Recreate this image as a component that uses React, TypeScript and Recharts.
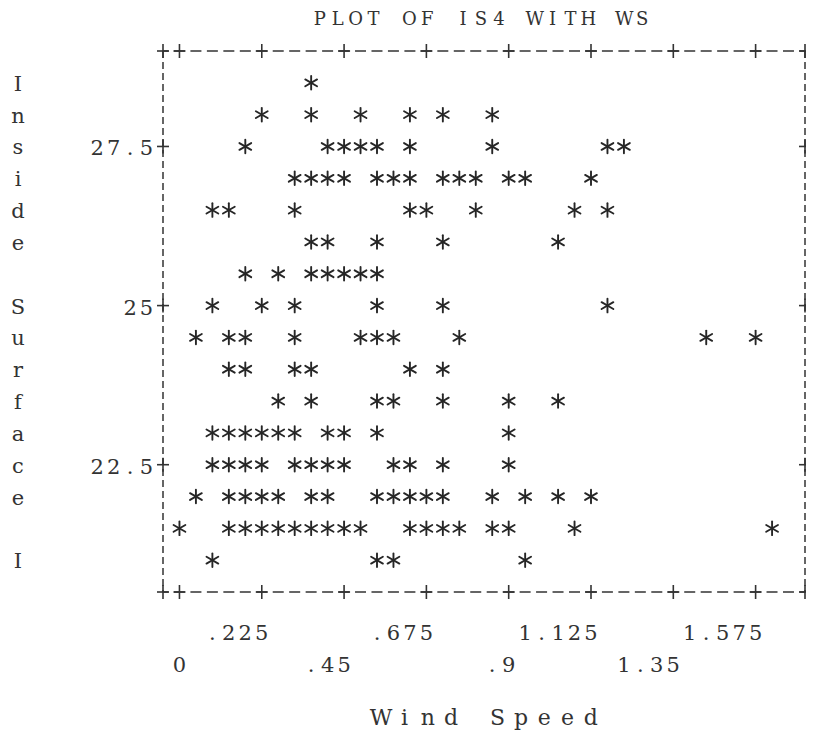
import React from 'react';
import { ScatterChart, Scatter, XAxis, YAxis } from 'recharts';

const title = 'PLOT OF IS4 WITH WS';
const xTitle = 'Wind Speed';
const yTitle = 'Inside Surface I';

const xTicks = [0, 0.225, 0.45, 0.675, 0.9, 1.125, 1.35, 1.575];
const xTickLabels = ['0', '.225', '.45', '.675', '.9', '1.125', '1.35', '1.575'];
const yTicks = [22.5, 25, 27.5];
const yTickLabels = ['22.5', '25', '27.5'];
const xMin = -0.045;
const xMax = 1.71;
const yMin = 20.5;
const yMax = 29;

// printed rows of the plot, top to bottom (IS4 value of each row)
const is4Rows = [28.5, 28, 27.5, 27, 26.5, 26, 25.5, 25, 24.5, 24, 23.5, 23, 22.5, 22, 21.5, 21];

// wind speed of every asterisk in each row
const ws285 = [0.36];
const ws280 = [0.225, 0.36, 0.495, 0.63, 0.72, 0.855];
const ws275 = [0.18, 0.405, 0.45, 0.495, 0.54, 0.63, 0.855, 1.17, 1.215];
const ws270 = [0.315, 0.36, 0.405, 0.45, 0.54, 0.585, 0.63, 0.72, 0.765, 0.81, 0.9, 0.945, 1.125];
const ws265 = [0.09, 0.135, 0.315, 0.63, 0.675, 0.81, 1.08, 1.17];
const ws260 = [0.36, 0.405, 0.54, 0.72, 1.035];
const ws255 = [0.18, 0.27, 0.36, 0.405, 0.45, 0.495, 0.54];
const ws250 = [0.09, 0.225, 0.315, 0.54, 0.72, 1.17];
const ws245 = [0.045, 0.135, 0.18, 0.315, 0.495, 0.54, 0.585, 0.765, 1.44, 1.575];
const ws240 = [0.135, 0.18, 0.315, 0.36, 0.63, 0.72];
const ws235 = [0.27, 0.36, 0.54, 0.585, 0.72, 0.9, 1.035];
const ws230 = [0.09, 0.135, 0.18, 0.225, 0.27, 0.315, 0.405, 0.45, 0.54, 0.9];
const ws225 = [0.09, 0.135, 0.18, 0.225, 0.315, 0.36, 0.405, 0.45, 0.585, 0.63, 0.72, 0.9];
const ws220 = [0.045, 0.135, 0.18, 0.225, 0.27, 0.36, 0.405, 0.54, 0.585, 0.63, 0.675, 0.72, 0.855, 0.945, 1.035, 1.125];
const ws215 = [0, 0.135, 0.18, 0.225, 0.27, 0.315, 0.36, 0.405, 0.45, 0.495, 0.63, 0.675, 0.72, 0.765, 0.855, 0.9, 1.08, 1.62];
const ws210 = [0.09, 0.54, 0.585, 0.945];

const wsRows = [ws285, ws280, ws275, ws270, ws265, ws260, ws255, ws250, ws245, ws240, ws235, ws230, ws225, ws220, ws215, ws210];

const points = is4Rows.flatMap((is4, i) => wsRows[i].map((ws) => ({ ws, is4 })));

const ink = '#333';
const font = '"DejaVu Serif", "Liberation Serif", serif';
const PITCH = 16.46; // typewriter column width

// x positions for each character, so text sits on the typewriter grid
const typedX = (text: string, firstX: number, pitch: number) =>
  text.split('').map((_, i) => (firstX + i * pitch).toFixed(1)).join(' ');

const Plus = ({ x, y }: { x: number; y: number }) => (
  <g stroke={ink} strokeWidth={1.6}>
    <line x1={x - 6} y1={y} x2={x + 6} y2={y} />
    <line x1={x} y1={y - 7} x2={x} y2={y + 7} />
  </g>
);

const PlusTick = (props: any) => <Plus x={props.x} y={props.y} />;

const BottomTick = (props: any) => {
  const { x, y, payload } = props;
  const idx = xTicks.indexOf(payload.value);
  if (idx < 0) return <Plus x={x} y={y} />;
  const label = xTickLabels[idx];
  const first = x - (label.length - 1) * PITCH;
  const ty = y + (idx % 2 === 1 ? 48 : 80);
  return (
    <g>
      <Plus x={x} y={y} />
      <text x={typedX(label, first, PITCH)} y={ty} textAnchor="middle" fontFamily={font} fontSize={21} fill={ink}>
        {label}
      </text>
    </g>
  );
};

const LeftTick = (props: any) => {
  const { x, y, payload } = props;
  const idx = yTicks.indexOf(payload.value);
  const label = idx < 0 ? '' : yTickLabels[idx];
  const first = x - label.length * PITCH;
  return (
    <g>
      <Plus x={x} y={y} />
      <text x={typedX(label, first, PITCH)} y={y + 9} textAnchor="middle" fontFamily={font} fontSize={21} fill={ink}>
        {label}
      </text>
    </g>
  );
};

const Asterisk = (props: any) => {
  const { cx, cy } = props;
  if (cx == null || cy == null) return null;
  const r = 6.8;
  const dx = r * Math.cos(Math.PI / 6);
  const dy = r * Math.sin(Math.PI / 6);
  return (
    <g stroke="#262626" strokeWidth={1.9} strokeLinecap="round">
      <line x1={cx} y1={cy - r} x2={cx} y2={cy + r} />
      <line x1={cx - dx} y1={cy - dy} x2={cx + dx} y2={cy + dy} />
      <line x1={cx - dx} y1={cy + dy} x2={cx + dx} y2={cy - dy} />
    </g>
  );
};

const Blank = () => <g />;

const TitleLabel = (props: any) => {
  const vb = props.viewBox || { x: 155, width: 642 };
  const pitch = 17.9;
  const cx = vb.x + vb.width / 2 - 3;
  const first = cx - ((title.length - 1) * pitch) / 2;
  return (
    <text x={typedX(title, first, pitch)} y={17} textAnchor="middle" fontFamily={font} fontSize={18} fill={ink}>
      {title}
    </text>
  );
};

const XTitleLabel = (props: any) => {
  const vb = props.viewBox || { x: 155, y: 584, width: 642, height: 146 };
  const pitch = 23.3;
  const cx = vb.x + vb.width / 2 + 2;
  const first = cx - ((xTitle.length - 1) * pitch) / 2;
  return (
    <text x={typedX(xTitle, first, pitch)} y={vb.y + vb.height - 13} textAnchor="middle" fontFamily={font} fontSize={22} fill={ink}>
      {xTitle}
    </text>
  );
};

const YTitleLabel = (props: any) => {
  const vb = props.viewBox || { y: 43, height: 541 };
  const letters = yTitle.split('');
  return (
    <g>
      {letters.map((ch, i) => {
        const rowY = vb.y + ((yMax - is4Rows[i]) / (yMax - yMin)) * vb.height;
        return (
          <text key={i} x={10} y={rowY + 8} textAnchor="middle" fontFamily={font} fontSize={21} fill={ink}>
            {ch}
          </text>
        );
      })}
    </g>
  );
};

const hLine = { stroke: ink, strokeWidth: 1.5, strokeDasharray: '11 5.46', strokeDashoffset: 5.5 };
const vLine = { stroke: ink, strokeWidth: 1.5, strokeDasharray: '7 4' };

const borderTicks = [xMin, ...xTicks, xMax];

export default function App() {
  return (
    <ScatterChart width={806} height={730} margin={{ top: 42, right: 0, bottom: 0, left: 0 }} style={{ background: '#fff' }}>
      <XAxis
        xAxisId="bottom"
        type="number"
        dataKey="ws"
        domain={[xMin, xMax]}
        ticks={borderTicks}
        interval={0}
        height={146}
        tickSize={0}
        tickMargin={0}
        axisLine={hLine}
        tick={<BottomTick />}
        label={<XTitleLabel />}
      />
      <XAxis
        xAxisId="top"
        orientation="top"
        type="number"
        dataKey="ws"
        domain={[xMin, xMax]}
        ticks={borderTicks}
        interval={0}
        height={1}
        tickSize={0}
        tickMargin={0}
        axisLine={hLine}
        tick={<PlusTick />}
        label={<TitleLabel />}
      />
      <YAxis
        yAxisId="left"
        type="number"
        dataKey="is4"
        domain={[yMin, yMax]}
        ticks={yTicks}
        interval={0}
        width={155}
        tickSize={0}
        tickMargin={0}
        axisLine={vLine}
        tick={<LeftTick />}
        label={<YTitleLabel />}
      />
      <YAxis
        yAxisId="right"
        orientation="right"
        type="number"
        dataKey="is4"
        domain={[yMin, yMax]}
        ticks={yTicks}
        interval={0}
        width={9}
        tickSize={0}
        tickMargin={0}
        axisLine={vLine}
        tick={<PlusTick />}
      />
      <Scatter xAxisId="bottom" yAxisId="left" data={points} dataKey="is4" shape={<Asterisk />} isAnimationActive={false} />
      {/* binds the top and right border axes so their "+" marks get drawn */}
      <Scatter xAxisId="top" yAxisId="right" data={points} dataKey="is4" shape={<Blank />} isAnimationActive={false} />
    </ScatterChart>
  );
}
